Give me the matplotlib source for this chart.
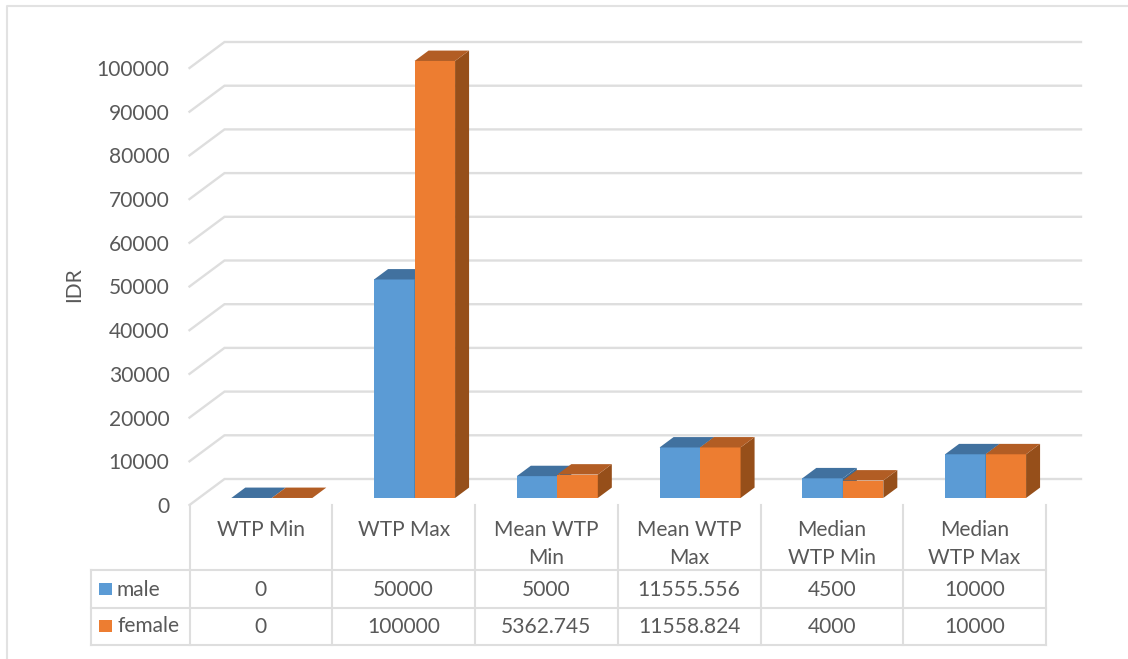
import matplotlib
matplotlib.use("Agg")
import matplotlib.pyplot as plt
from matplotlib.patches import Polygon, Rectangle
from matplotlib.transforms import Affine2D, blended_transform_factory

categories = ["WTP Min", "WTP Max", "Mean WTP\nMin", "Mean WTP\nMax", "Median\nWTP Min", "Median\nWTP Max"]
male = [0, 50000, 5000, 11555.556, 4500, 10000]
female = [0, 100000, 5362.745, 11558.824, 4000, 10000]
series_names = ["male", "female"]
y_ticks = list(range(0, 100001, 10000))
axis_title = "IDR"

W, H = 1128, 659
TEXT = "#595959"
GRID = "#dedede"
FRONT = ["#5B9BD5", "#ED7D31"]
TOP = ["#41719F", "#B25D24"]
SIDE = ["#3A6A95", "#964F1A"]

plt.rcParams["font.family"] = ["Lato", "DejaVu Sans"]
FS = 15.1

fig = plt.figure(figsize=(W / 100, H / 100), dpi=100)
left, right, base, top = 189.5, 1046, 505, 68
ax = fig.add_axes([left / W, 1 - base / H, (right - left) / W, (base - top) / H])
ax.set_xlim(0, 6)
ax.set_ylim(0, 100000)
ax.patch.set_alpha(0)
for s in ax.spines.values():
    s.set_visible(False)
ax.set_xticks([])
ax.set_yticks(y_ticks)
ax.tick_params(axis="y", length=0, pad=14.5, labelsize=FS, labelcolor=TEXT)

# top-down pixel coordinates for the frame and the data table
px = Affine2D().scale(1, -1).translate(0, H)
col_x = blended_transform_factory(ax.transData, px)

# oblique projection: depth 0 is the front of the floor, depth 1 the back wall
unit_x = (right - left) / 6
unit_y = (base - top) / 100000
DEPTH_X, DEPTH_Y = 35, 26


def project(x, v, d):
    return x + d * DEPTH_X / unit_x, v + d * DEPTH_Y / unit_y


# walls' gridlines
for t in y_ticks:
    pts = [project(0, t, 0), project(0, t, 1), project(6, t, 1)]
    ax.plot(*zip(*pts), color=GRID, lw=1.7, clip_on=False, zorder=1, solid_joinstyle="miter")

# bars
BAR_W = 40.5 / unit_x
NUDGE = 1.5 / unit_x
D0, D1 = 0.27, 0.67
for i, vals in enumerate(zip(male, female)):
    start = i + 0.5 - BAR_W + NUDGE
    for j, v in enumerate(vals):
        x0 = start + j * BAR_W
        x1 = x0 + BAR_W
        z = 3 + j
        fx0, fy0 = project(x0, 0, D0)
        fx1, fy1 = project(x1, v, D0)
        if v > 0:
            ax.add_patch(Rectangle((fx0, fy0), fx1 - fx0, fy1 - fy0, color=FRONT[j], lw=0,
                                   clip_on=False, zorder=z))
            side = [project(x1, 0, D0), project(x1, 0, D1), project(x1, v, D1), project(x1, v, D0)]
            ax.add_patch(Polygon(side, color=SIDE[j], lw=0, clip_on=False, zorder=z))
        cap = [project(x0, v, D0), project(x1, v, D0), project(x1, v, D1), project(x0, v, D1)]
        ax.add_patch(Polygon(cap, color=TOP[j], lw=0, clip_on=False, zorder=z))

ax.text(74, 285, axis_title, transform=px, rotation=90, ha="center", va="center",
        fontsize=FS, color=TEXT)

# data table rules
TABLE_LEFT = 91
ROW_TOP, ROW1, ROW2 = 570, 607.5, 645
for y in (ROW_TOP, ROW1, ROW2):
    fig.add_artist(plt.Line2D([TABLE_LEFT, right], [y, y], transform=px, color=GRID, lw=1.5))
fig.add_artist(plt.Line2D([TABLE_LEFT, TABLE_LEFT], [ROW_TOP, ROW2], transform=px, color=GRID, lw=1.5))
for i in range(7):
    ax.plot([i, i], [base, ROW2], transform=col_x, color=GRID, lw=1.5, clip_on=False, zorder=1)

# data table contents
for i, name in enumerate(categories):
    ax.text(i + 0.5, 530 if "\n" not in name else 544, name, transform=col_x, ha="center",
            va="center", fontsize=FS, color=TEXT, linespacing=1.56)
for i, (m, f) in enumerate(zip(male, female)):
    ax.text(i + 0.5, 590, f"{m:.10g}", transform=col_x, ha="center", va="center", fontsize=FS, color=TEXT)
    ax.text(i + 0.5, 627, f"{f:.10g}", transform=col_x, ha="center", va="center", fontsize=FS, color=TEXT)
for j, (name, y, ky) in enumerate(zip(series_names, (589.5, 626), (589, 625.5))):
    fig.add_artist(Rectangle((99, ky - 6), 13, 12, transform=px, color=FRONT[j], lw=0))
    fig.text(117, y, name, transform=px, ha="left", va="center", fontsize=FS, color=TEXT)

# chart area border
fig.add_artist(plt.Line2D([W, 6.5, 6.5], [6, 6, H], transform=px, color="#e2e2e2", lw=1.5))

fig.savefig("out.png", dpi=100)
